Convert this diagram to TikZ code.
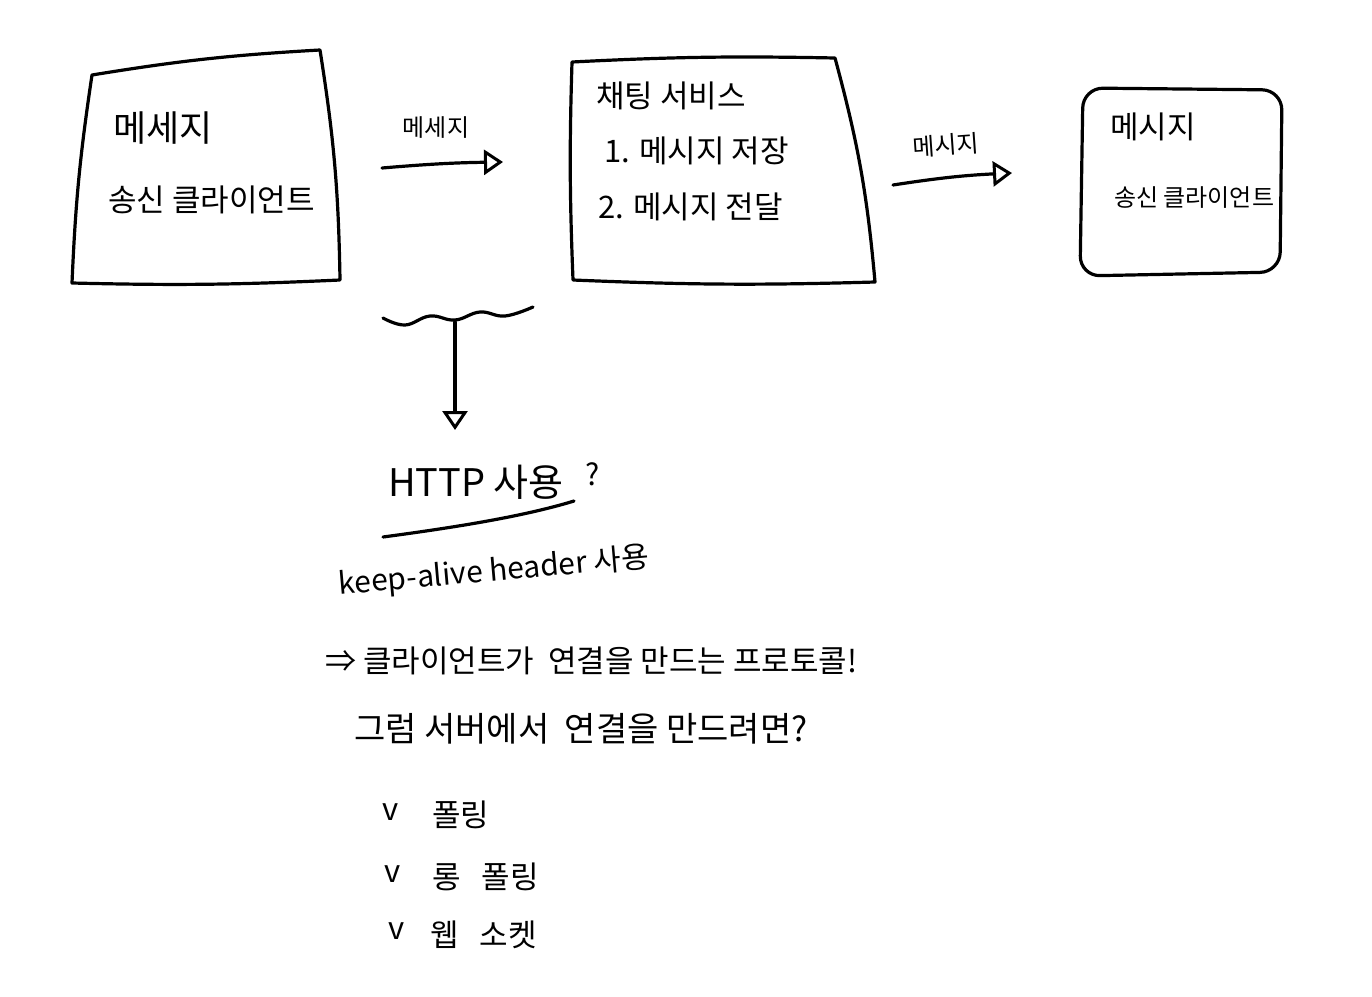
\documentclass[tikz,border=0pt]{standalone}
\usepackage{fontspec}
\setmainfont{Noto Sans CJK KR}
\usetikzlibrary{arrows.meta}
\tikzset{
  ink/.style={line width=3.2pt, line cap=round, line join=round, black},
  sketchbox/.style={ink},
  txt/.style={font=\fontsize{31}{36}\selectfont, inner sep=0pt, anchor=west},
  txtsmall/.style={font=\fontsize{24}{28}\selectfont, inner sep=0pt, anchor=west},
  flow/.style={ink, -{Triangle[open, length=19pt, width=25pt, line width=3pt]}},
}
\begin{document}
\begin{tikzpicture}[x=1pt, y=-1pt]
\useasboundingbox (0,0) rectangle (1372,996);

% ---- box 1: sender client
\draw[sketchbox] (92,75) to[bend left=3] (320,50) to[bend left=4] (340,280)
  to[bend left=2] (72,283) to[bend left=3] (92,75) -- cycle;
\node[txt, font=\fontsize{36}{40}\selectfont] (b1a) at (113,128) {메세지};
\node[txt] (b1b) at (108,200) {송신 클라이언트};

% ---- box 2: chat service
\draw[sketchbox] (572,62) to[bend left=2] (835,58) to[bend left=5] (875,282)
  to[bend left=2] (573,280) to[bend left=2] (572,62) -- cycle;
\node[txt] (b2a) at (596,96) {채팅 서비스};
\node[txt] (b2b) at (604,151) {1. 메시지 저장};
\node[txt] (b2c) at (598,207) {2. 메시지 전달};

% ---- box 3: client
\draw[sketchbox, rounded corners=20pt] (1083,88) -- (1282,90) -- (1280,272)
  -- (1080,276) -- cycle;
\node[txt] (b3a) at (1110,127) {메시지};
\node[txtsmall] (b3b) at (1114,198) {송신 클라이언트};

% ---- arrows between boxes
\coordinate (a1s) at (382,168);
\coordinate (a1e) at (503,162);
\draw[flow] (a1s) to[bend left=2] (a1e);
\node[txt, anchor=center, font=\fontsize{24}{28}\selectfont] (l1) at (436,128) {메세지};

\coordinate (a2s) at (893,185);
\coordinate (a2e) at (1012,173);
\draw[flow] (a2s) to[bend left=3] (a2e);
\node[txt, anchor=center, font=\fontsize{24}{28}\selectfont, rotate=4] (l2) at (946,145) {메시지};

% ---- wavy cut and downward arrow
\draw[ink] plot[smooth, tension=0.7] coordinates {(383,318) (405,325) (430,316) (455,320) (480,312) (505,316) (533,307)};
\coordinate (d1s) at (455,322);
\coordinate (d1e) at (455,430);
\draw[flow] (d1s) -- (d1e);

% ---- HTTP question
\node[txt, font=\fontsize{38}{44}\selectfont] (http) at (388,482) {HTTP 사용};
\node[txt, font=\fontsize{30}{34}\selectfont] (q) at (585,474) {?};
\coordinate (u1) at (383,537);
\coordinate (u2) at (574,501);
\draw[ink] (u1) .. controls (450,528) and (522,517) .. (u2);

\node[txt, anchor=center, font=\fontsize{30}{34}\selectfont, rotate=5] (keep) at (494,572) {keep-alive header 사용};

\node[txt] (c1) at (325,661) {⇒ 클라이언트가 \ 연결을 만드는 프로토콜!};
\node[txt, font=\fontsize{34}{40}\selectfont] (c2) at (354,729) {그럼 서버에서 \ 연결을 만드려면?};

% ---- check list
\node[txt] (v1) at (382,812) {v};
\node[txt] (t1) at (432,815) {폴링};
\node[txt] (v2) at (384,874) {v};
\node[txt] (t2) at (432,877) {롱 \ \ 폴링};
\node[txt] (v3) at (388,931) {v};
\node[txt] (t3) at (430,935) {웹 \ \ 소켓};
\end{tikzpicture}
\end{document}
